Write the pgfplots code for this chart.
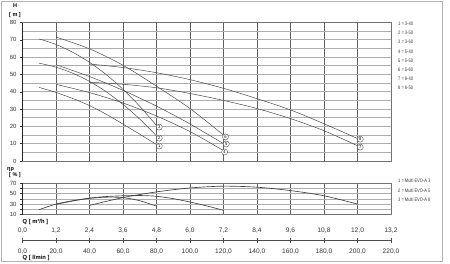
\documentclass[border=0pt]{standalone}
\usepackage{pgfplots}
\pgfplotsset{compat=1.18}
\usepackage{fontspec}
\setmainfont{Liberation Sans}
\newfontfamily\narrowfont[FakeStretch=0.8]{Liberation Sans}
\definecolor{curvec}{HTML}{4A4A4A}
\tikzset{lbl/.style={circle, draw=black!70, fill=white, inner sep=0pt, minimum size=6pt, line width=0.4pt, font=\fontsize{4.2}{5}\selectfont}}
\begin{document}
\begin{tikzpicture}[x=1pt,y=1pt]
\useasboundingbox (0,0) rectangle (450,263);
\draw[black!30, line width=1pt] (1,1.5) rectangle (442.5,261.5);
\pgfplotsset{
  myax/.style={scale only axis, width=368.5pt, xmin=0, xmax=13.2,
    anchor=south west,
    /pgf/number format/assume math mode=true,
    axis line style={black!55, line width=0.5pt},
    tick label style={font=\fontsize{6}{7}\selectfont, text=black!80},
    xtick={0,1.2,2.4,3.6,4.8,6,7.2,8.4,9.6,10.8,12,13.2},
    xticklabels={}, x tick style={draw=none},
    xmajorgrids, ymajorgrids,
    x grid style={black!62, line width=0.45pt},
    y grid style={black!32, line width=0.9pt},
    ytick pos=left, tick align=outside, major tick length=2.5pt, minor tick length=0pt,
    y tick style={black!80, line width=0.5pt},
    clip=false},
  curve/.style={curvec, line width=0.5pt, smooth, tension=0.5},
  eta/.style={black!75, line width=0.65pt, smooth, tension=0.5}
}
% ---------- main H(Q) plot ----------
\begin{axis}[myax, at={(22.5pt,102pt)}, height=138.5pt, ymin=0, ymax=80,
  ytick={0,10,...,80}, minor ytick={5,15,...,75}, yminorgrids]
\addplot[curve] coordinates {(0.6,42.5) (1.2,39.6) (1.8,36.1) (2.4,32.0) (3.0,27.0) (3.6,21.3) (4.2,15.5) (4.8,9.5)};
\addplot[curve] coordinates {(0.6,56.5) (1.2,54.2) (1.8,50.7) (2.4,46.0) (3.0,40.0) (3.6,32.7) (4.2,24.2) (4.8,14.5)};
\addplot[curve] coordinates {(0.6,70.5) (1.2,67.3) (1.8,62.8) (2.4,57.0) (3.0,49.9) (3.6,41.4) (4.2,31.6) (4.8,20.5)};
\addplot[curve] coordinates {(1.2,44.3) (2.4,39.5) (3.6,33.5) (4.8,26.0) (6.0,17.0) (7.2,6.0)};
\addplot[curve] coordinates {(1.2,55.6) (2.4,48.8) (3.6,40.8) (4.8,31.7) (6.0,21.4) (7.2,10.0)};
\addplot[curve] coordinates {(1.2,71.6) (2.4,64.8) (3.6,55.3) (4.8,43.2) (6.0,30.3) (7.2,15.0)};
\addplot[curve] coordinates {(2.4,45.5) (3.6,44.3) (4.8,42.3) (6.0,39.0) (7.2,35.0) (8.4,30.3) (9.6,24.5) (10.8,17.5) (12.0,8.8)};
\addplot[curve] coordinates {(2.4,56.0) (3.6,54.0) (4.8,51.0) (6.0,47.0) (7.2,42.0) (8.4,36.0) (9.6,29.5) (10.8,21.5) (12.0,13.0)};
\draw[black!85, line width=1pt] (axis cs:0,0) -- (axis cs:0,80);
\node[lbl] at (axis cs:4.9,8.6) {1};
\node[lbl] at (axis cs:4.9,13.2) {2};
\node[lbl] at (axis cs:4.9,19.6) {3};
\node[lbl] at (axis cs:7.24,5.2) {4};
\node[lbl] at (axis cs:7.3,9.8) {5};
\node[lbl] at (axis cs:7.27,13.9) {6};
\node[lbl] at (axis cs:12.1,8.0) {7};
\node[lbl] at (axis cs:12.1,12.6) {8};
\end{axis}
% ---------- efficiency plot ----------
\begin{axis}[myax, at={(22.5pt,48.5pt)}, height=31.2pt, ymin=10, ymax=70,
  ytick={10,20,...,70}, yticklabels={10,{},30,{},50,{},70},
  y grid style={black!32, line width=0.7pt}]
\addplot[eta] coordinates {(0.6,19.5) (1.2,30.0) (1.8,36.5) (2.4,41.0) (3.0,43.3) (3.6,42.5) (4.2,36.5) (4.8,26.0)};
\addplot[eta] coordinates {(1.2,29.5) (1.8,36.0) (2.4,41.5) (3.0,44.5) (3.6,46.0) (4.2,46.5) (4.8,45.0) (5.4,40.5) (6.0,34.0) (6.6,26.5) (7.2,18.0)};
\addplot[eta] coordinates {(2.4,27.5) (3.6,42.5) (4.8,53.5) (6.0,61.0) (7.2,64.5) (8.4,62.5) (9.6,56.0) (10.8,46.0) (12.0,30.0)};
\draw[black!85, line width=1pt] (axis cs:0,10) -- (axis cs:0,70);
\end{axis}
% ---------- bottom scales ----------
\begin{axis}[scale only axis, width=368.5pt, height=4pt, at={(22.5pt,23pt)}, anchor=south west,
  xmin=0, xmax=13.2, ymin=0, ymax=1, axis x line*=bottom, axis y line=none,
  xtick={0,1.2,2.4,3.6,4.8,6,7.2,8.4,9.6,10.8,12,13.2},
  xticklabels={{0,0},{20,0},{40,0},{60,0},{80,0},{100,0},{120,0},{140,0},{160,0},{180,0},{200,0},{220,0}},
  tick align=center, major tick length=5pt, tick style={black!70, line width=0.5pt},
  axis line style={black!70, line width=0.6pt},
  xticklabel style={font=\fontsize{6.6}{7}\selectfont, text=black!80, yshift=-3pt}]
\end{axis}
\begin{axis}[scale only axis, width=368.5pt, height=4pt, at={(22.5pt,23pt)}, anchor=north west,
  xmin=0, xmax=13.2, ymin=0, ymax=1, axis x line*=top, axis y line=none, xticklabel pos=upper,
  xtick={0,1.2,2.4,3.6,4.8,6,7.2,8.4,9.6,10.8,12,13.2},
  xticklabels={{0,0},{1,2},{2,4},{3,6},{4,8},{6,0},{7,2},{8,4},{9,6},{10,8},{12,0},{13,2}},
  major tick length=0pt, axis line style={draw=none},
  xticklabel style={font=\fontsize{6.6}{7}\selectfont, text=black!80, yshift=3.5pt}]
\end{axis}
% ---------- labels ----------
\node[font=\bfseries\fontsize{5.5}{6}\selectfont] at (15,257) {H};
\node[font=\bfseries\fontsize{5.5}{6}\selectfont] at (15,248) {[ m ]};
\node[font=\bfseries\fontsize{5.5}{6}\selectfont] at (10.5,93.5) {ηp};
\node[font=\bfseries\fontsize{5.5}{6}\selectfont] at (15,88) {[ \% ]};
\node[anchor=west, font=\bfseries\fontsize{5.8}{6}\selectfont, inner sep=0pt] at (22.5,41.5) {Q [ m³/h ]};
\node[anchor=west, font=\bfseries\fontsize{5.8}{6}\selectfont, inner sep=0pt] at (22.5,5.5) {Q [ l/min ]};
\begin{scope}[every node/.style={anchor=west, inner sep=0pt, text=black!80, font=\narrowfont\fontsize{5}{6}\selectfont}]
\node at (398,239) {1 = 3-40};
\node at (398,230) {2 = 3-50};
\node at (398,221) {3 = 3-60};
\node at (398,211.5) {4 = 5-40};
\node at (398,202.5) {5 = 5-50};
\node at (398,193) {6 = 5-60};
\node at (398,184) {7 = 8-40};
\node at (398,175) {8 = 8-50};
\node at (398,82) {1 = Multi EVO-A 3};
\node at (398,72.5) {2 = Multi EVO-A 5};
\node at (398,63) {3 = Multi EVO-A 8};
\end{scope}
\end{tikzpicture}
\end{document}
